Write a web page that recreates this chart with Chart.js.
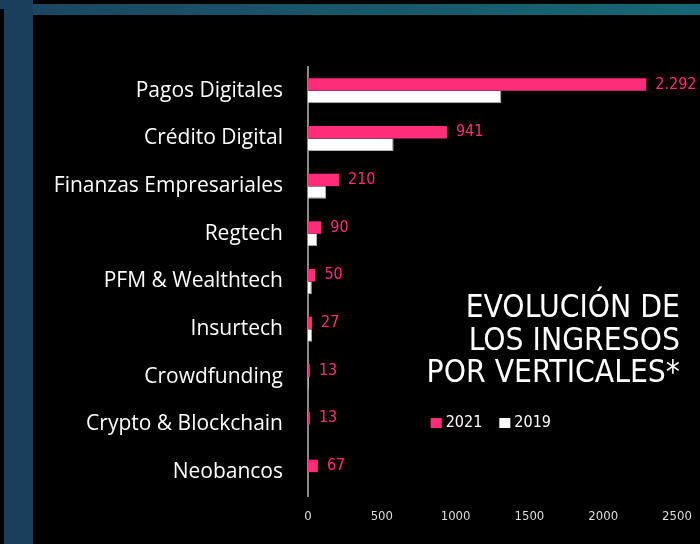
<!DOCTYPE html>
<html>
<head>
<meta charset="utf-8">
<script src="https://cdn.jsdelivr.net/npm/chart.js@4.4.1/dist/chart.umd.min.js"></script>
<style>
  html, body { margin:0; padding:0; width:700px; height:544px; background:#000; overflow:hidden; }
  #leftcol { position:absolute; left:4px; top:0; width:29px; height:544px; background:#1a3f5c; }
  #corner { position:absolute; left:0; top:0; width:33px; height:9px; background:#1a3f5c; }
  #topstrip { position:absolute; left:33px; top:4px; width:667px; height:11px; background:linear-gradient(to right,#1a4762,#176676); }
  #wrap { position:absolute; left:33px; top:15px; width:667px; height:529px; background:#000; }
</style>
</head>
<body>
<div id="leftcol"></div>
<div id="corner"></div>
<div id="topstrip"></div>
<div id="wrap"><canvas id="c" width="667" height="529"></canvas></div>
<script>
const categories = ["Pagos Digitales","Crédito Digital","Finanzas Empresariales","Regtech","PFM & Wealthtech","Insurtech","Crowdfunding","Crypto & Blockchain","Neobancos"];
const values2021 = [2292, 941, 210, 90, 50, 27, 13, 13, 67];
const values2019 = [1310, 580, 122, 61, 26, 28, 5, 0, 0];
const seriesNames = ["2021", "2019"];
const xTicks = [0, 500, 1000, 1500, 2000, 2500];
const titleLines = ["EVOLUCIÓN DE", "LOS INGRESOS", "POR VERTICALES*"];

const PINK = '#fe2c79';
const COND = '"DejaVu Sans Condensed", "DejaVu Sans", sans-serif';

function fmtEs(v) {
  return String(v).replace(/\B(?=(\d{3})+(?!\d))/g, '.');
}

const overlayPlugin = {
  id: 'overlay',
  afterDatasetsDraw(chart) {
    const ctx = chart.ctx;
    const meta = chart.getDatasetMeta(0);
    ctx.save();
    ctx.fillStyle = PINK;
    ctx.font = 'normal 16px ' + COND;
    ctx.textAlign = 'left';
    ctx.textBaseline = 'middle';
    meta.data.forEach((bar, i) => {
      ctx.fillText(fmtEs(chart.data.datasets[0].data[i]), bar.x + 9, bar.y);
    });
    // Title
    const rightX = 647;
    ctx.fillStyle = '#ffffff';
    ctx.font = 'normal 31.5px ' + COND;
    ctx.textAlign = 'right';
    ctx.textBaseline = 'alphabetic';
    const baselines = [301.5, 335, 366.5];
    titleLines.forEach((t, i) => ctx.fillText(t, rightX, baselines[i]));
    // Legend
    ctx.font = 'normal 16px ' + COND;
    ctx.textAlign = 'left';
    ctx.textBaseline = 'middle';
    let x = 397.7;
    const y = 408;
    chart.data.datasets.forEach((ds, i) => {
      ctx.fillStyle = ds.backgroundColor;
      ctx.fillRect(x, y - 5, 11, 10);
      ctx.fillStyle = '#ffffff';
      ctx.fillText(ds.label, x + 15, y);
      x += 15 + ctx.measureText(ds.label).width + 17;
    });
    ctx.restore();
  }
};

new Chart(document.getElementById('c'), {
  type: 'bar',
  data: {
    labels: categories,
    datasets: [
      { label: seriesNames[0], data: values2021, backgroundColor: PINK, borderWidth: 0 },
      { label: seriesNames[1], data: values2019, backgroundColor: '#ffffff', borderColor: '#b0b0b0',
        borderWidth: { top: 0, left: 0, right: 1, bottom: 1 }, borderSkipped: false }
    ]
  },
  options: {
    indexAxis: 'y',
    responsive: false,
    animation: false,
    categoryPercentage: 0.524,
    barPercentage: 1,
    layout: { padding: { top: 52, right: 23, bottom: 0, left: 0 } },
    plugins: { legend: { display: false }, tooltip: { enabled: false }, title: { display: false } },
    scales: {
      x: {
        min: 0, max: 2500,
        afterBuildTicks: (s) => { s.ticks = xTicks.map(v => ({ value: v })); },
        grid: { display: false },
        border: { display: false },
        ticks: { color: '#dddddd', font: { family: COND, size: 13 }, padding: 5, maxRotation: 0,
                 callback: (v) => String(v) },
        afterFit: (s) => { s.height = 48; s.paddingRight = 0; s.paddingLeft = 0; }
      },
      y: {
        grid: { display: false },
        border: { display: true, color: '#8a8a8a', width: 2 },
        ticks: { color: '#ffffff', font: { family: '"Open Sans", "Noto Sans", sans-serif', size: 21 }, padding: 17 },
        afterFit: (s) => { s.width = 275; }
      }
    }
  },
  plugins: [overlayPlugin]
});
</script>
</body>
</html>
